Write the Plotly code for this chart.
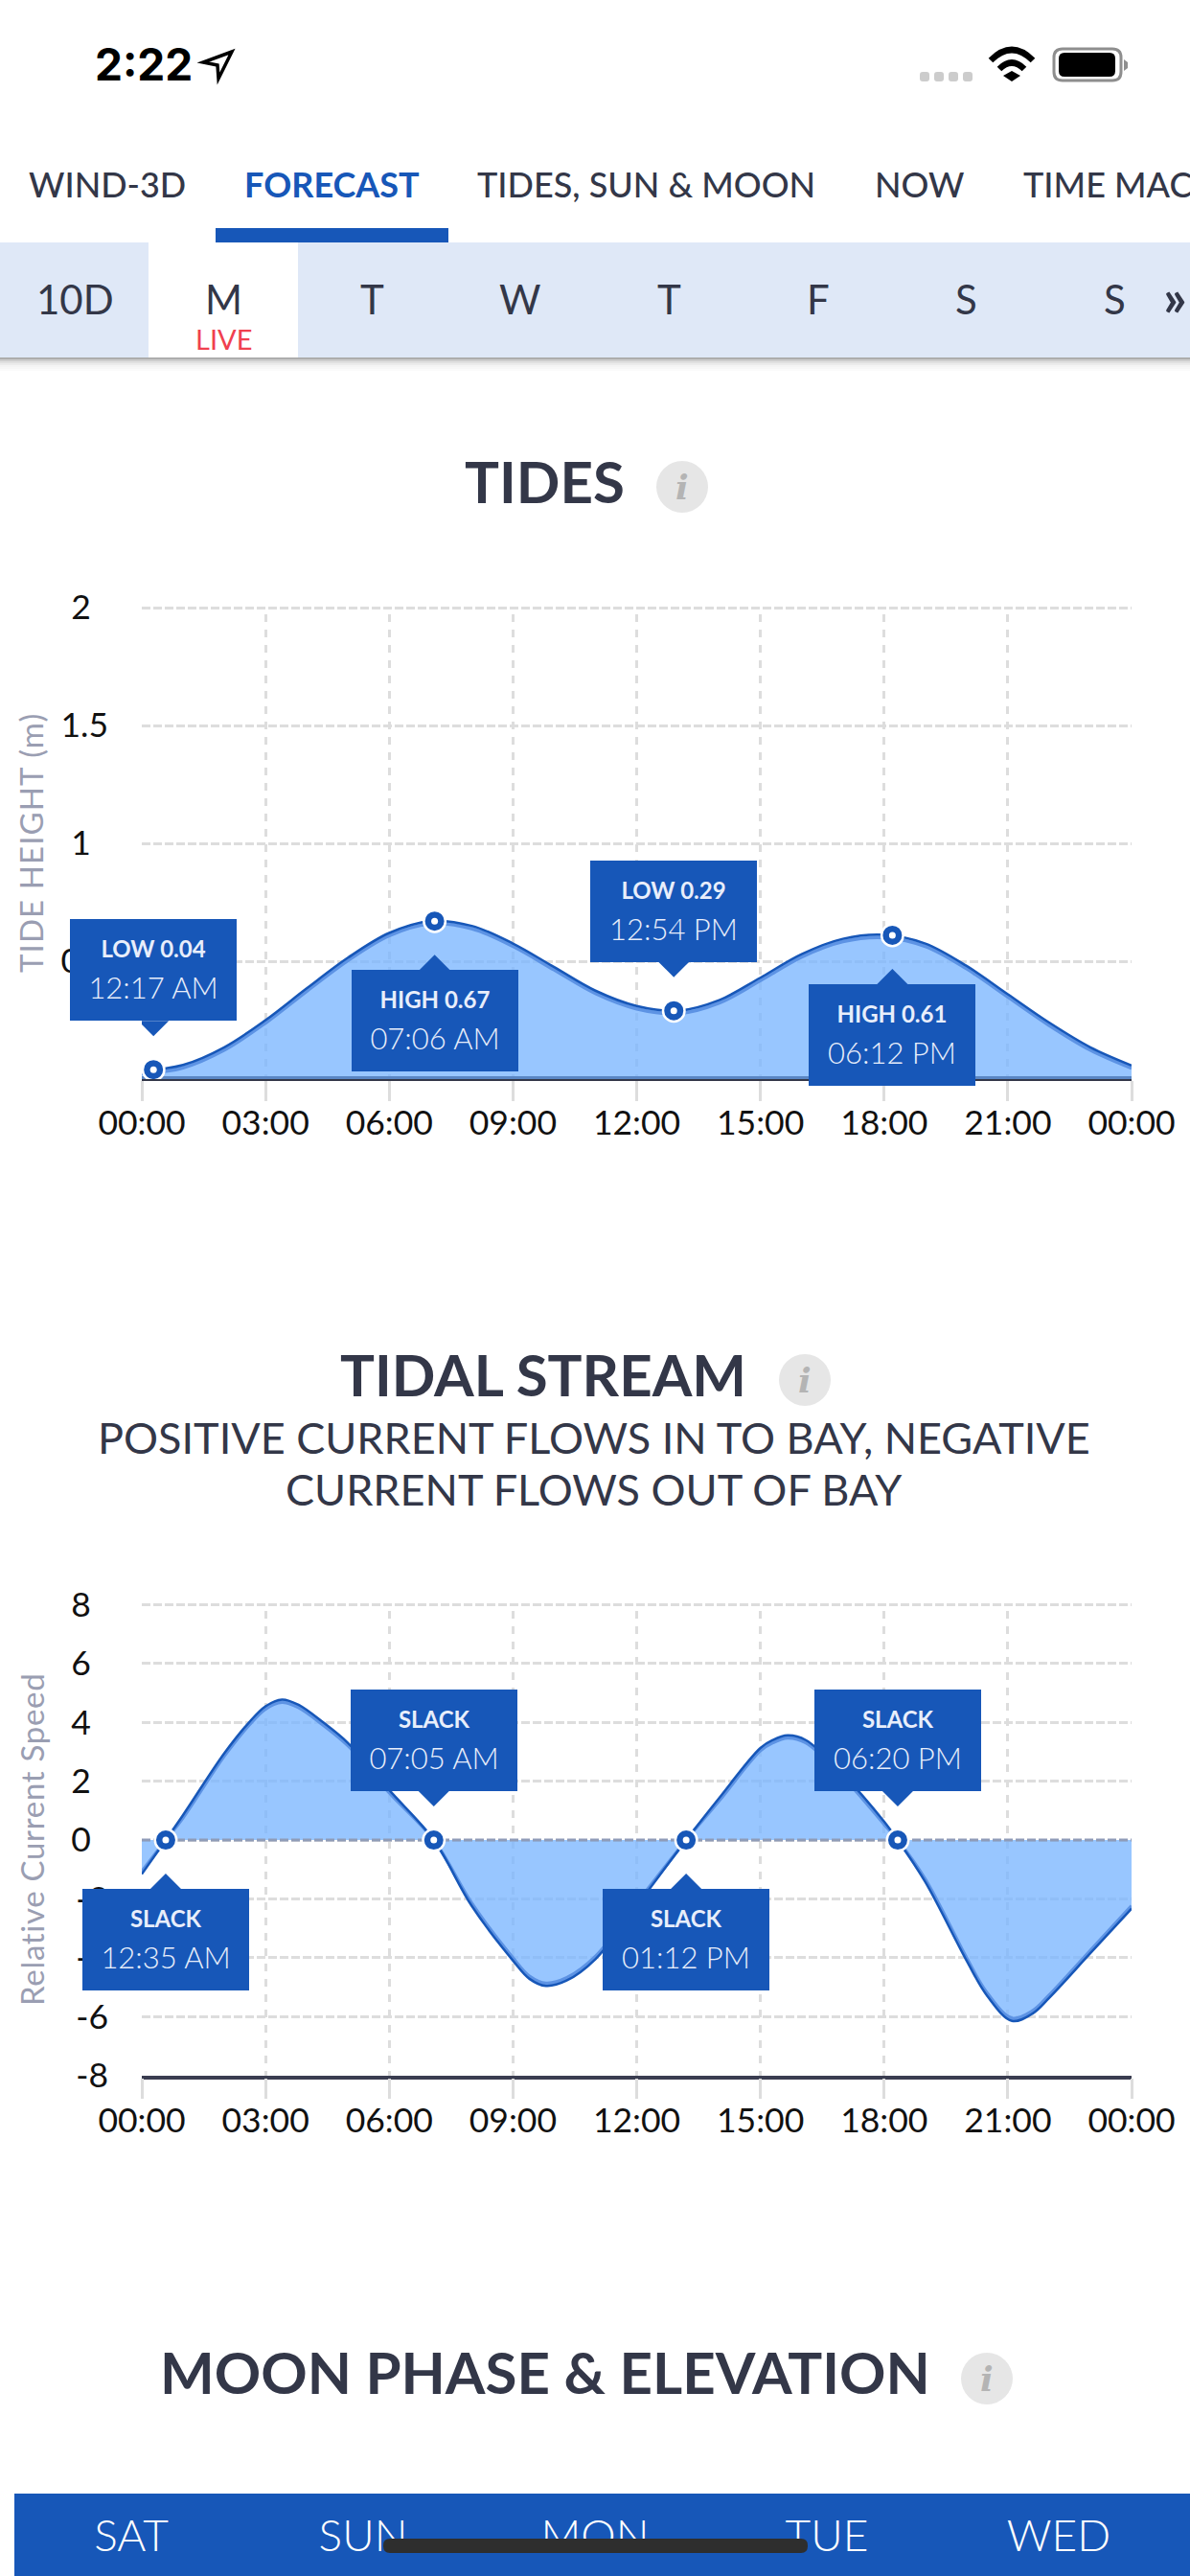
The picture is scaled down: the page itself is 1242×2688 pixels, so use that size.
import plotly.graph_objects as go

# ---------- data ----------
hour_ticks = [0, 3, 6, 9, 12, 15, 18, 21, 24]
hour_labels = ["00:00", "03:00", "06:00", "09:00", "12:00", "15:00", "18:00", "21:00", "00:00"]

tide_hours = [0, 1, 2, 3, 4, 5, 6, 7, 8, 9, 10, 11, 12, 13, 14, 15, 16, 17, 18, 19, 20, 21, 22, 23, 24]
tide_heights = [0.035, 0.06, 0.135, 0.25, 0.385, 0.515, 0.62, 0.67, 0.65, 0.575, 0.475, 0.375, 0.31, 0.29,
                0.335, 0.43, 0.53, 0.595, 0.612, 0.575, 0.48, 0.36, 0.24, 0.135, 0.058]
tide_event_hours = [0.283, 7.1, 12.9, 18.2]
tide_event_heights = [0.04, 0.67, 0.29, 0.61]
tide_event_titles = ["LOW 0.04", "HIGH 0.67", "LOW 0.29", "HIGH 0.61"]
tide_event_times = ["12:17 AM", "07:06 AM", "12:54 PM", "06:12 PM"]
tide_event_above = [True, False, True, False]
tide_yticks = [0.5, 1, 1.5, 2]
tide_ylabels = ["0.5", "1\u00a0\u00a0", "1.5", "2\u00a0\u00a0"]

stream_hours = [0, 0.58, 1, 2, 2.6, 3, 3.4, 3.8, 4.4, 5, 6, 7.08, 8, 9, 9.4, 9.8, 10.3, 11, 12, 13.2, 14, 15, 15.3,
                15.66, 16.1, 17, 18, 18.33, 19, 20, 20.5, 21.1, 21.6, 22, 23, 24]
stream_speeds = [-1.16, 0, 0.85, 2.95, 4.0, 4.55, 4.78, 4.6, 4.0, 3.3, 1.7, 0, -2.24, -4.1, -4.72, -4.96, -4.78, -4.05,
                 -2.24, 0, 1.43, 3.13, 3.4, 3.56, 3.4, 2.24, 0.63, 0, -1.43, -4.1, -5.3, -6.15, -5.9, -5.37, -3.85,
                 -2.33]
stream_event_hours = [0.58, 7.08, 13.2, 18.33]
stream_event_speeds = [0, 0, 0, 0]
stream_event_titles = ["SLACK", "SLACK", "SLACK", "SLACK"]
stream_event_times = ["12:35 AM", "07:05 AM", "01:12 PM", "06:20 PM"]
stream_event_above = [False, True, False, True]
stream_yticks = [-8, -6, -4, -2, 0, 2, 4, 6, 8]
stream_ylabels = ["-8", "-6", "-4", "-2", "0\u00a0\u00a0", "2\u00a0\u00a0", "4\u00a0\u00a0", "6\u00a0\u00a0", "8\u00a0\u00a0"]

tab_names = ["WIND-3D", "FORECAST", "TIDES, SUN & MOON", "NOW", "TIME MAC"]
day_tabs = ["10D", "M", "T", "W", "T", "F", "S", "S"]
moon_days = ["SAT", "SUN", "MON", "TUE", "WED"]

# ---------- style ----------
W, H = 1242, 2688
BLUE = "#1757b8"
FILL = "rgba(120,180,255,0.76)"
BAND = "#5d93e4"
INK = "#333748"
GRID = "#dddddd"
AXT = "#9a9eb2"
FONT = "Lato"


def px(x):
    return x / W


def py(y):
    return 1 - y / H


annotations = []
shapes = []


def text(t, x, y, size, color=INK, weight=400, anchor="center", family=FONT):
    annotations.append(dict(text=t, xref="paper", yref="paper", x=px(x), y=py(y), xanchor=anchor, yanchor="middle",
                            showarrow=False, font=dict(family=family, size=size, color=color, weight=weight)))


def rect(x0, y0, x1, y1, color, layer="below"):
    shapes.append(dict(type="rect", xref="paper", yref="paper", x0=px(x0), x1=px(x1), y0=py(y0), y1=py(y1),
                       fillcolor=color, line=dict(width=0), layer=layer))


def path(points, fill=None, stroke=None, width=0, layer="below"):
    d = ""
    for p in points:
        if isinstance(p, str):
            d += p + " "
        else:
            d += f"{px(p[0])} {py(p[1])} "
    shapes.append(dict(type="path", xref="paper", yref="paper", path=d, fillcolor=fill or "rgba(0,0,0,0)",
                       line=dict(color=stroke or "rgba(0,0,0,0)", width=width), layer=layer))


def rrect(x0, y0, x1, y1, r, **kw):
    path(["M", (x0 + r, y0), "L", (x1 - r, y0), "Q", (x1, y0), (x1, y0 + r), "L", (x1, y1 - r), "Q", (x1, y1),
          (x1 - r, y1), "L", (x0 + r, y1), "Q", (x0, y1), (x0, y1 - r), "L", (x0, y0 + r), "Q", (x0, y0),
          (x0 + r, y0), "Z"], **kw)


def info(cx, cy):
    shapes.append(dict(type="circle", xref="paper", yref="paper", x0=px(cx - 27), x1=px(cx + 27), y0=py(cy + 27),
                       y1=py(cy - 27), fillcolor="#e6e6e6", line=dict(width=0), layer="below"))
    annotations.append(dict(text="<b><i>i</i></b>", xref="paper", yref="paper", x=px(cx), y=py(cy), showarrow=False,
                            xanchor="center", yanchor="middle",
                            font=dict(family="DejaVu Serif", size=36, color="#b4b4b4")))


# ---------- status bar ----------
text("2:22", 150, 67, 46, "#000000", 700, family="Inter")
path(["M", (242, 54), "L", (212, 65), "L", (227, 68), "L", (228, 82), "Z"], stroke="#000000", width=3.5)
for x0 in (960, 975, 990, 1005):
    rrect(x0, 75, x0 + 10, 85, 3, fill="#cccccc")
path(["M", (1034, 63), "Q", (1056, 41), (1078, 63)], stroke="#000000", width=6.5)
path(["M", (1043, 72), "Q", (1056, 59), (1069, 72)], stroke="#000000", width=6.5)
path(["M", (1047, 79), "L", (1056, 74), "L", (1065, 79), "L", (1056, 85), "Z"], fill="#000000")
rrect(1100, 51, 1170, 84, 9, stroke="#8e8e8e", width=3)
rrect(1105, 55, 1164, 80, 6, fill="#000000")
path(["M", (1173, 62), "L", (1177, 65), "L", (1177, 71), "L", (1173, 74), "Z"], fill="#8e8e8e")

# ---------- tabs ----------
tab_x = [28, 253, 496, 911, 1066]
for name, x in zip(tab_names, tab_x):
    active = name == "FORECAST"
    text(name, x, 192, 36, BLUE if active else INK, 700 if active else 500, "left")
rect(225, 238, 468, 253, BLUE)
rect(0, 253, W, 373, "#dfe8f7")
rect(155, 253, 311, 373, "#ffffff")
for i, a in enumerate([0.42, 0.26, 0.16, 0.10, 0.06, 0.04, 0.02]):
    rect(0, 373 + i * 2, W, 375 + i * 2, f"rgba(60,60,60,{a})")
for name, x in zip(day_tabs, [78, 233, 388, 543, 698, 854, 1008, 1163]):
    text(name, x, 312, 42)
text("\u00bb", 1226, 310, 54, INK, 700)
text("LIVE", 233, 353, 29, "#f0404f")

# ---------- section titles ----------
text("TIDES", 568, 502, 60, INK, 700)
info(712, 508)
text("TIDAL STREAM", 567, 1434, 60, INK, 700)
info(840, 1440)
text("POSITIVE CURRENT FLOWS IN TO BAY, NEGATIVE", 620, 1500, 45)
text("CURRENT FLOWS OUT OF BAY", 620, 1554, 45)
text("MOON PHASE &amp; ELEVATION", 569, 2475, 60, INK, 700)
info(1030, 2482)

# ---------- moon strip ----------
rect(15, 2602, W, H, BLUE)
rrect(400, 2649, 843, 2664, 7, fill="#2e2e2e", layer="above")

fig = go.Figure()


def chart(xa, ya, hours, values, ev_h, ev_v, ev_t, ev_c, ev_up, offset, base):
    fig.add_trace(go.Scatter(x=hours, y=values, xaxis=xa, yaxis=ya, mode="lines", fill="tozeroy", fillcolor=FILL,
                             line=dict(width=0, shape="spline", smoothing=1), hoverinfo="skip"))
    band = [v - offset if v > 0 else v + offset if v < 0 else v for v in values]
    fig.add_trace(go.Scatter(x=hours, y=band, xaxis=xa, yaxis=ya, mode="lines",
                             line=dict(color=BAND, width=3.5, shape="spline", smoothing=1), hoverinfo="skip"))
    fig.add_trace(go.Scatter(x=hours, y=values, xaxis=xa, yaxis=ya, mode="lines",
                             line=dict(color=BLUE, width=2.5, shape="spline", smoothing=1), hoverinfo="skip"))
    fig.add_trace(go.Scatter(x=[0, 24], y=[0, 0], xaxis=xa, yaxis=ya, mode="lines", line=base, hoverinfo="skip"))
    fig.add_trace(go.Scatter(x=ev_h, y=ev_v, xaxis=xa, yaxis=ya, mode="markers", cliponaxis=False,
                             marker=dict(size=22.5, color=BLUE, line=dict(color="#ffffff", width=2.5)),
                             hoverinfo="skip"))
    fig.add_trace(go.Scatter(x=ev_h, y=ev_v, xaxis=xa, yaxis=ya, mode="markers", cliponaxis=False,
                             marker=dict(size=7, color="#ffffff"), hoverinfo="skip"))
    for h, v, title, when, up in zip(ev_h, ev_v, ev_t, ev_c, ev_up):
        s = 1 if up else -1
        shapes.append(dict(type="path", xref=xa, yref=ya, xsizemode="pixel", ysizemode="pixel", xanchor=h, yanchor=v,
                           path=f"M -16 {s * 51} L 16 {s * 51} L 0 {s * 35} Z", fillcolor=BLUE, line=dict(width=0),
                           layer="above"))
        annotations.append(dict(
            text=f'<span style="font-size:24px;font-weight:700">{title}</span><br>'
                 f'<span style="font-size:31px">{when}</span>',
            xref=xa, yref=ya, x=h, y=v, showarrow=False, xanchor="center", yanchor="bottom" if up else "top",
            yshift=s * 51, width=174, height=106, bgcolor=BLUE, borderpad=0, borderwidth=0, align="center",
            valign="middle", font=dict(family=FONT, size=33, color="#e8eefb", weight=300)))


chart("x", "y", tide_hours, tide_heights, tide_event_hours, tide_event_heights, tide_event_titles, tide_event_times,
      tide_event_above, 0.012, dict(color="#5a86c4", width=6))
chart("x2", "y2", stream_hours, stream_speeds, stream_event_hours, stream_event_speeds, stream_event_titles,
      stream_event_times, stream_event_above, 0.09, dict(color="#8f9cb8", width=3, dash="9px,3px"))
fig.add_trace(go.Scatter(x=moon_days, y=[0.44] * 5, xaxis="x3", yaxis="y3", mode="text", text=moon_days,
                         textposition="middle center", cliponaxis=False,
                         textfont=dict(family=FONT, size=46, color="#ffffff", weight=300), hoverinfo="skip"))

xaxis_common = dict(range=[0, 24], tickmode="array", tickvals=hour_ticks, ticktext=hour_labels, showgrid=True,
                    gridcolor=GRID, gridwidth=3.3, griddash="0px,8px,8px,0px", ticks="outside", ticklen=21,
                    tickwidth=3.3, tickcolor=GRID, tickangle=0, showline=True, zeroline=False, ticklabelstandoff=-8,
                    tickfont=dict(family=FONT, size=35.5, color="#111111"))
yaxis_common = dict(tickmode="array", showgrid=True, gridcolor=GRID, gridwidth=3, griddash="9px,3px", zeroline=False,
                    showline=False, ticks="", ticklabelstandoff=34, tickfont=dict(family=FONT, size=35.5, color="#111111"))

fig.update_layout(
    width=W, height=H, autosize=False, margin=dict(l=0, r=0, t=0, b=0, autoexpand=False), paper_bgcolor="#ffffff",
    plot_bgcolor="rgba(0,0,0,0)", showlegend=False, shapes=shapes, annotations=annotations,
    xaxis=dict(domain=[px(148), px(1181)], anchor="y", linecolor=INK, linewidth=2, **xaxis_common),
    yaxis=dict(domain=[py(1126), py(632.6)], anchor="x", range=[0, 2.0057], tickvals=tide_yticks,
               ticktext=tide_ylabels,
               title=dict(text='<span style="letter-spacing:1.1px">TIDE HEIGHT (m)</span>',
                          font=dict(family=FONT, size=33, color=AXT), standoff=7), **yaxis_common),
    xaxis2=dict(domain=[px(148), px(1181)], anchor="y2", linecolor="#3a3d50", linewidth=3.5, **xaxis_common),
    yaxis2=dict(domain=[py(2165.5), py(1673.2)], anchor="x2", range=[-8, 8.046], tickvals=stream_yticks,
                ticktext=stream_ylabels,
                title=dict(text='<span style="letter-spacing:0.7px">Relative Current Speed</span>',
                           font=dict(family=FONT, size=33, color=AXT), standoff=17),
                **yaxis_common),
    xaxis3=dict(domain=[px(16), px(1226)], anchor="y3", visible=False, type="category", range=[-0.5, 4.5]),
    yaxis3=dict(domain=[py(H), py(2602)], anchor="x3", visible=False, range=[0, 1]),
)

fig.write_html("out.html", config={"displayModeBar": False},
               post_script="document.body.style.margin='0';")
